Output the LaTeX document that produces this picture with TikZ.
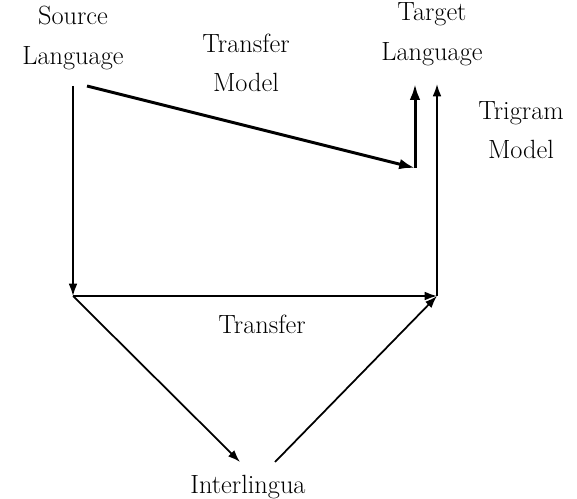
\documentclass[tikz,border=0pt]{standalone}
\usetikzlibrary{arrows.meta}

\begin{document}
\begin{tikzpicture}[
    x=0.02cm, y=-0.02cm,
    lbl/.style={font=\fontsize{15}{22.5}\selectfont, align=center, inner sep=0pt},
    flow/.style={-{Latex[length=7pt, width=5pt]}, line width=1pt},
    direct/.style={-{Latex[length=9pt, width=6pt]}, line width=1.7pt}
]
\useasboundingbox (0,0) rectangle (577,499);

% === Texte ===
\node[lbl] (src) at (73,38) {Source\\Language};
\node[lbl] (tgt) at (432,34) {Target\\Language};
\node[lbl] (tmodel) at (246,63) {Transfer\\Model};
\node[lbl] (trigram) at (521,130) {Trigram\\Model};
\node[lbl] (transfer) at (262,324) {Transfer};
\node[lbl] (inter) at (248,487) {Interlingua};

% === Eckpunkte ===
\coordinate (srcdown) at (73,86);
\coordinate (srcleft) at (73,296);
\coordinate (tgtright) at (437,296);
\coordinate (tgtup) at (437,84);
\coordinate (tmstart) at (87,86);
\coordinate (tmend) at (415,168);
\coordinate (tmup) at (415,84);
\coordinate (ilin) at (240,462);
\coordinate (ilout) at (275,462);

% === Transfer-Pfad ===
\draw[flow] (srcdown) -- (srcleft);
\draw[flow] (srcleft) -- (tgtright);
\draw[flow] (tgtright) -- (tgtup);

% === Interlingua-Pfad ===
\draw[flow] (srcleft) -- (ilin);
\draw[flow] (ilout) -- (tgtright);

% === Direktes Transfermodell ===
\draw[direct] (tmstart) -- (tmend);
\draw[direct] (tmend) -- (tmup);

\end{tikzpicture}
\end{document}
